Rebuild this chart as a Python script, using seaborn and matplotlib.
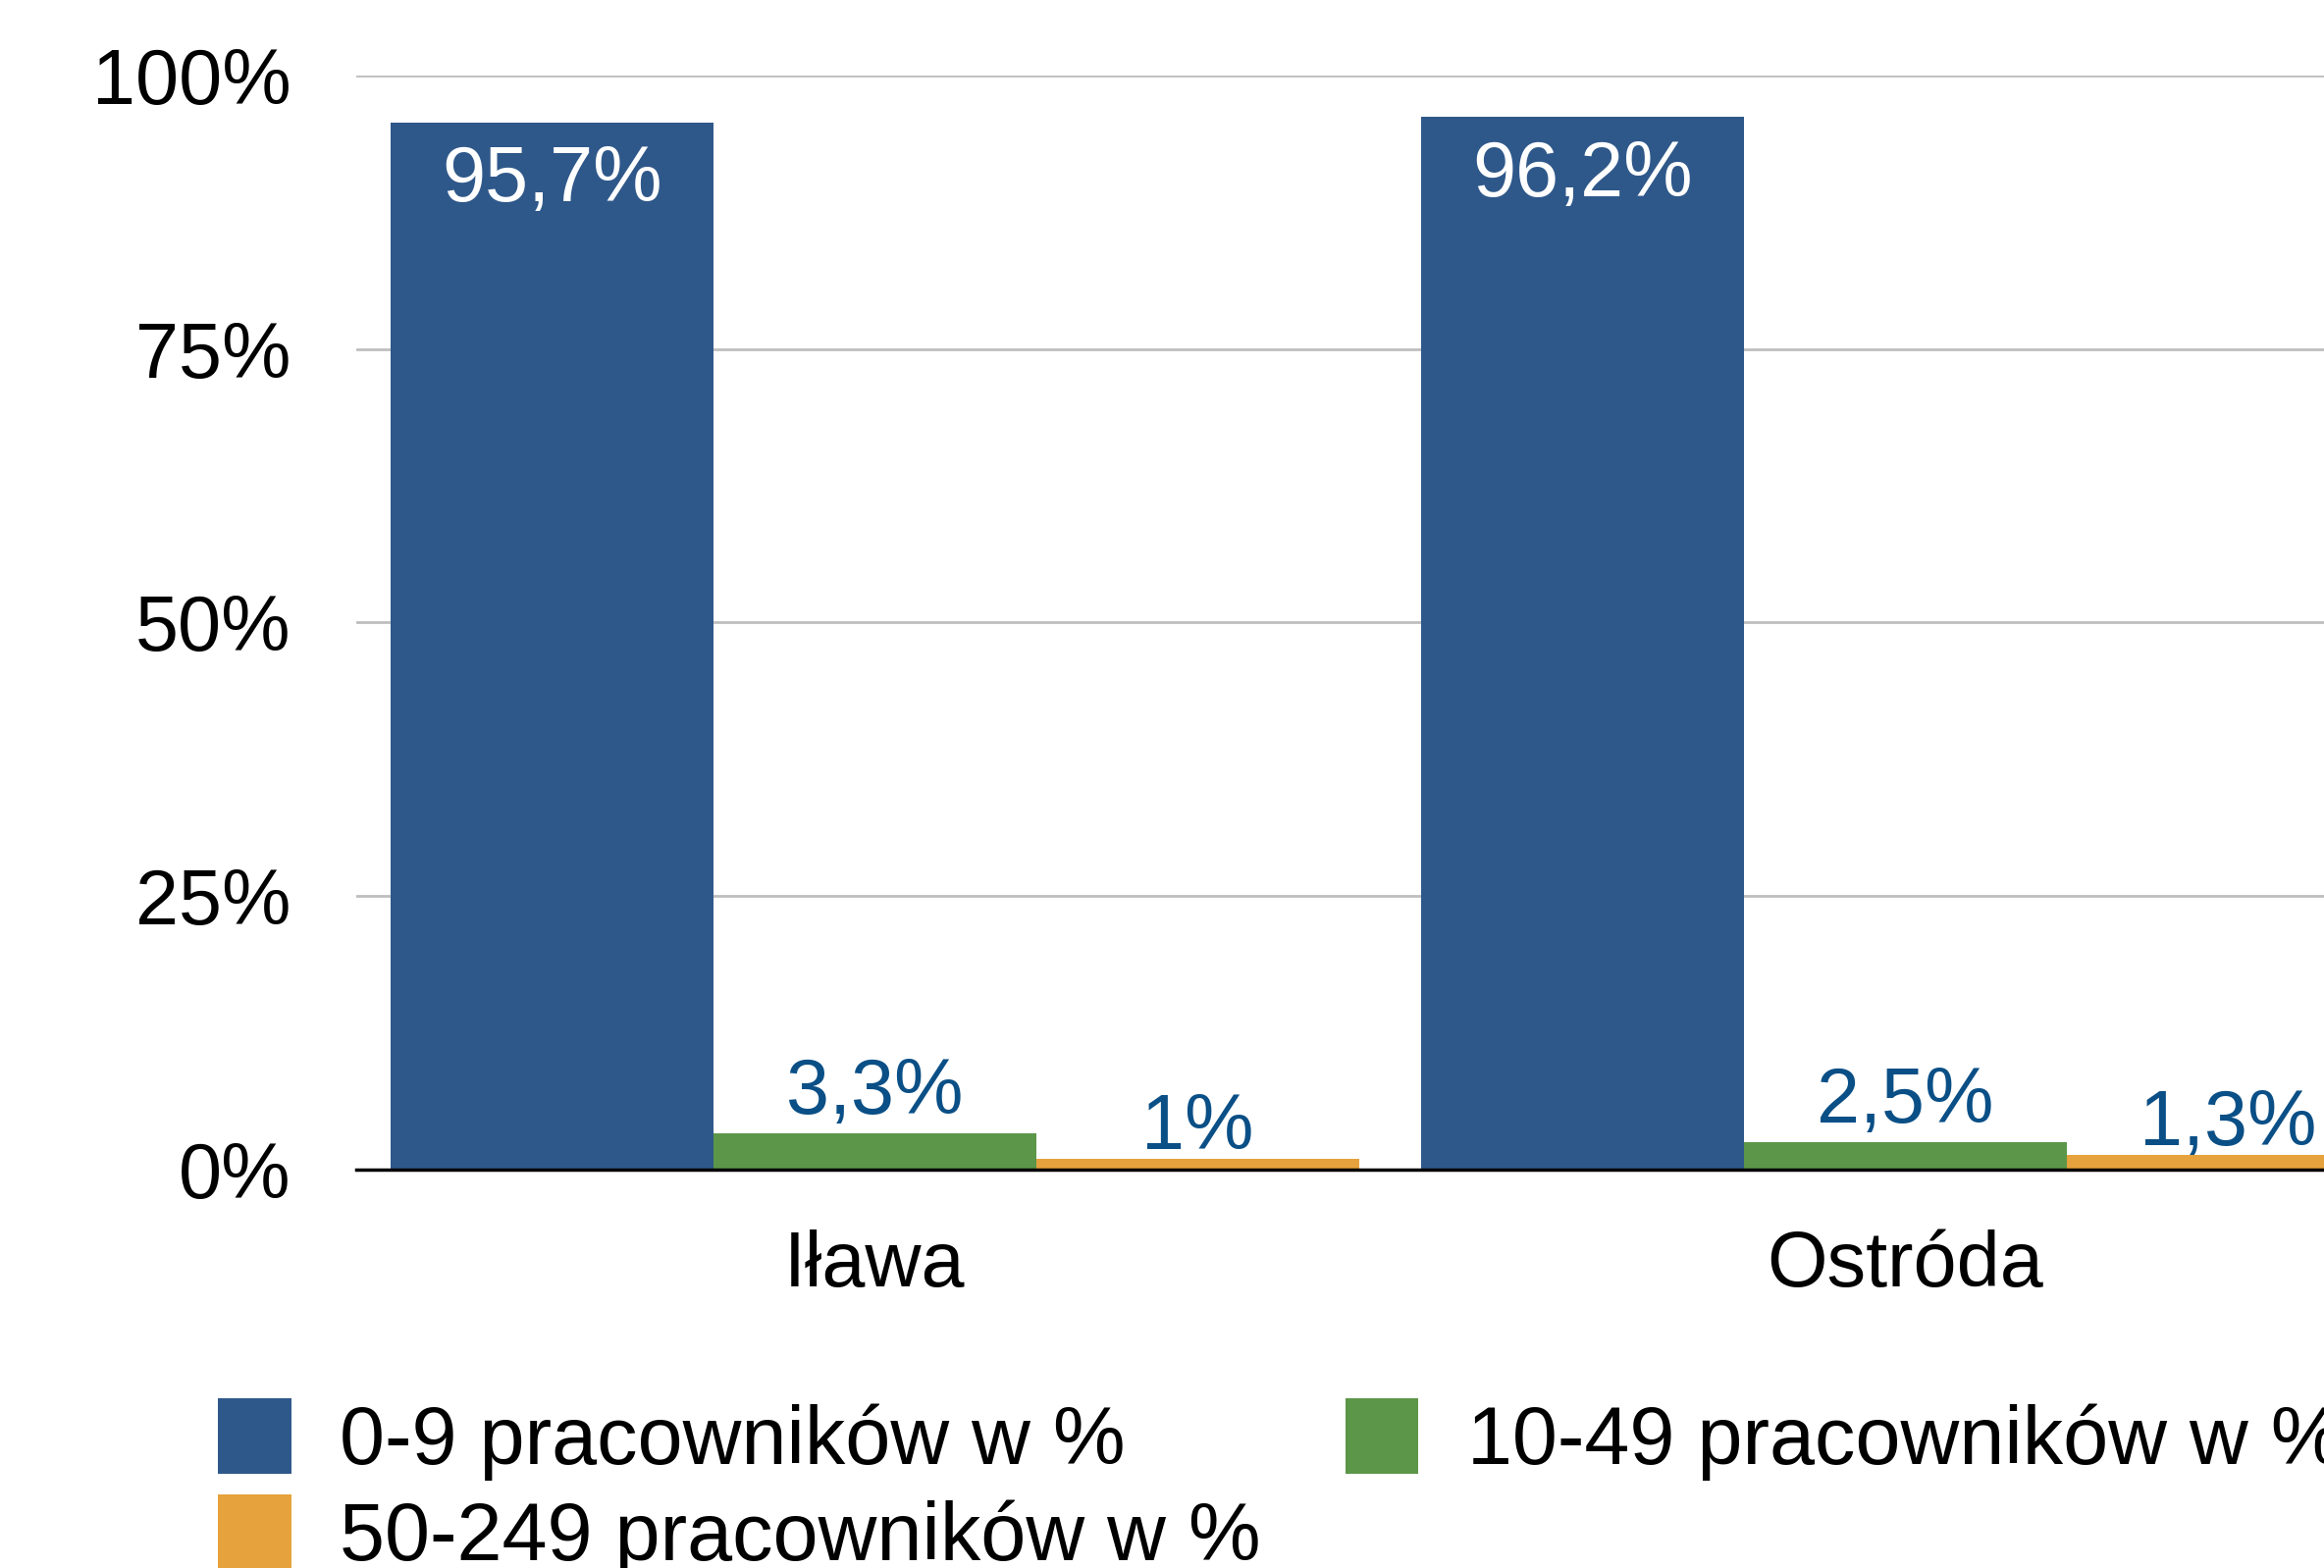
import matplotlib
matplotlib.use("Agg")
import matplotlib.pyplot as plt
import seaborn as sns
import pandas as pd

# --- Data ---
cities = ["Iława", "Ostróda"]
groups = ["0-9 pracowników w %", "10-49 pracowników w %", "50-249 pracowników w %"]
micro = [95.7, 96.2]
small = [3.3, 2.5]
medium = [1.0, 1.3]
y_ticks = [0, 25, 50, 75, 100]
y_tick_labels = ["0%", "25%", "50%", "75%", "100%"]

colors = ["#2F588A", "#5C9649", "#E6A23C"]
label_blue = "#0A4F86"

sns.set_theme(style="white")
plt.rcParams["font.family"] = ["Liberation Sans", "DejaVu Sans"]

df = pd.DataFrame({
    "miasto": cities * 3,
    "grupa": [groups[0]] * 2 + [groups[1]] * 2 + [groups[2]] * 2,
    "wartosc": micro + small + medium,
})

fig = plt.figure(figsize=(23.68, 15.98), dpi=100)
# axes runs past the right edge, like the cropped original
ax = fig.add_axes([0.1533, 0.2541, 0.8868, 0.6977])

sns.barplot(data=df, x="miasto", y="wartosc", hue="grupa", hue_order=groups,
            palette=colors, saturation=1, width=0.94, legend=False, ax=ax,
            linewidth=0)

ax.set_xlim(-0.503, 1.497)
ax.set_ylim(0, 100)
ax.set_yticks(y_ticks)
ax.set_yticklabels(y_tick_labels)
ax.set_xlabel("")
ax.set_ylabel("")
ax.tick_params(axis="y", length=0, pad=48, labelsize=57, colors="black")
ax.tick_params(axis="x", length=0, pad=44, labelsize=57, colors="black")

ax.yaxis.grid(True, color="#BEBEBE", linewidth=2)
ax.set_axisbelow(True)
for side in ["top", "right", "left"]:
    ax.spines[side].set_visible(False)
ax.spines["bottom"].set_color("black")
ax.spines["bottom"].set_linewidth(2.5)
ax.spines["bottom"].set_zorder(5)

def fmt(v):
    return f"{v:g}".replace(".", ",") + "%"

# value labels
ax.bar_label(ax.containers[0], labels=[fmt(v) for v in micro], padding=-70,
             color="white", fontsize=57)
ax.bar_label(ax.containers[1], labels=[fmt(v) for v in small], padding=2.5,
             color=label_blue, fontsize=57)
ax.bar_label(ax.containers[2], labels=[fmt(v) for v in medium], padding=-5,
             color=label_blue, fontsize=57)

# legend: blue, green on first row, orange below
handles = [ax.containers[0], ax.containers[2], ax.containers[1]]
labels = [groups[0], groups[2], groups[1]]
fig.legend(handles, labels, ncol=2, loc="upper left",
           bbox_to_anchor=(0.0938, 0.1083), frameon=False, fontsize=59.6,
           labelcolor="black",
           handlelength=0.9, handleheight=1.06, handletextpad=0.6,
           columnspacing=1.04, labelspacing=0.17, borderpad=0, borderaxespad=0)

fig.savefig("out.png", dpi=100)
